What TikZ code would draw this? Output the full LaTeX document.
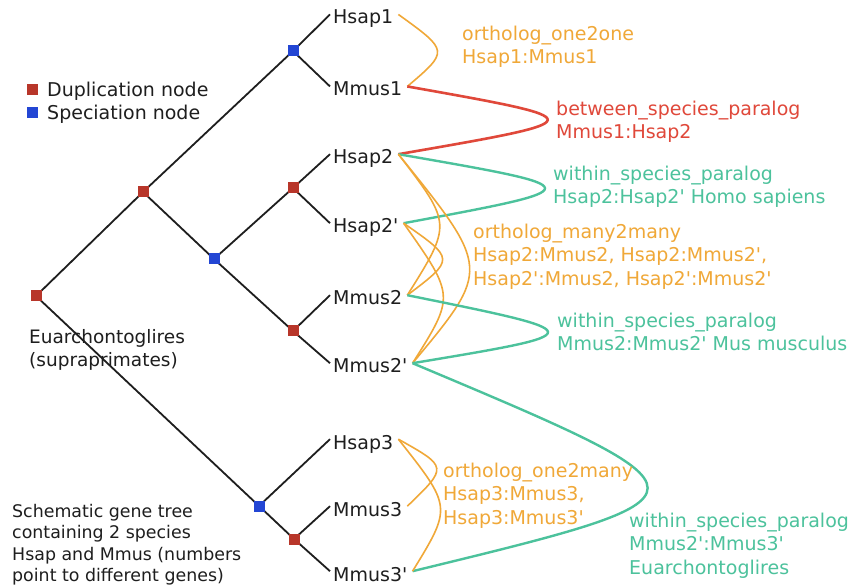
\documentclass[tikz,border=0pt]{standalone}
\usepackage{fontspec}
\setmainfont{DejaVu Sans}[Ligatures=TeXOff]
\definecolor{dupred}{RGB}{184,54,42}
\definecolor{specblue}{RGB}{35,70,212}
\definecolor{orangec}{RGB}{240,168,56}
\definecolor{redc}{RGB}{224,72,58}
\definecolor{greenc}{RGB}{76,194,156}
\definecolor{ink}{RGB}{30,30,30}
\begin{document}
\begin{tikzpicture}[x=1pt,y=-1pt,
  lab/.style={font=\fontsize{19}{23.5}\selectfont, inner sep=0pt},
  leaf/.style={lab, anchor=base west, text=ink},
  note/.style={lab, anchor=north west, align=left},
  br/.style={line width=1.8pt, ink},
  dupn/.style={fill=dupred, minimum size=11pt, inner sep=0pt},
  spen/.style={fill=specblue, minimum size=11pt, inner sep=0pt},
  orth/.style={orangec, line width=1.6pt},
  wpar/.style={greenc, line width=2.4pt},
  bpar/.style={redc, line width=2.6pt}]
\useasboundingbox[fill=white] (0,0) rectangle (855,588);

% leaf labels
\node[leaf] (H1)  at (333,24)  {Hsap1};
\node[leaf] (M1)  at (333,96)  {Mmus1};
\node[leaf] (H2)  at (333,164) {Hsap2};
\node[leaf] (H2p) at (333,233) {Hsap2'};
\node[leaf] (M2)  at (333,305) {Mmus2};
\node[leaf] (M2p) at (333,373) {Mmus2'};
\node[leaf] (H3)  at (333,449) {Hsap3};
\node[leaf] (M3)  at (333,516) {Mmus3};
\node[leaf] (M3p) at (333,581) {Mmus3'};

% leaf branch ends
\foreach \n in {H1,M1,H2,H2p,M2,M2p,H3,M3,M3p}
  \coordinate (l\n) at ([xshift=-3pt,yshift=-4.5pt]\n.north west);
% curve ends
\foreach \n in {H1,M1,H2,H2p,M2,M2p,H3,M3,M3p}
  \coordinate (r\n) at ([xshift=5pt,yshift=-4.5pt]\n.north east);

% inner tree nodes
\coordinate (c0) at (36,296);
\coordinate (c1) at (143,192);
\coordinate (c2) at (293,51);
\coordinate (c3) at (214,259);
\coordinate (c4) at (293,188);
\coordinate (c5) at (293,331);
\coordinate (c6) at (259,506);
\coordinate (c7) at (294,539);

% branches
\draw[br] (c0) -- (c1);
\draw[br] (c0) -- (c6);
\draw[br] (c1) -- (c2);
\draw[br] (c1) -- (c3);
\draw[br] (c2) -- (lH1);
\draw[br] (c2) -- (lM1);
\draw[br] (c3) -- (c4);
\draw[br] (c3) -- (c5);
\draw[br] (c4) -- (lH2);
\draw[br] (c4) -- (lH2p);
\draw[br] (c5) -- (lM2);
\draw[br] (c5) -- (lM2p);
\draw[br] (c6) -- (lH3);
\draw[br] (c6) -- (c7);
\draw[br] (c7) -- (lM3);
\draw[br] (c7) -- (lM3p);

\node[dupn] (n0) at (c0) {};
\node[dupn] (n1) at (c1) {};
\node[spen] (n2) at (c2) {};
\node[spen] (n3) at (c3) {};
\node[dupn] (n4) at (c4) {};
\node[dupn] (n5) at (c5) {};
\node[spen] (n6) at (c6) {};
\node[dupn] (n7) at (c7) {};

% legend
\node[dupn] (legD) at (32,90) {};
\node[spen] (legS) at (32,113) {};
\node[leaf] (legDt) at (47,97) {Duplication node};
\node[leaf] (legSt) at (47,120) {Speciation node};

\node[note, text=ink, font=\fontsize{18.5}{23.5}\selectfont] (clade) at (29,329) {Euarchontoglires\\(supraprimates)};
\node[note, text=ink, font=\fontsize{17.4}{21.5}\selectfont] (caption) at (12,503.8)
  {Schematic gene tree\\containing 2 species\\Hsap and Mmus (numbers\\point to different genes)};

% relation curves
\draw[orth] (rH1) .. controls (449,51) .. (rM1);
\draw[bpar] (rM1) .. controls (596,120) .. (rH2);
\draw[wpar] (rH2) .. controls (593,188) .. (rH2p);
\draw[orth] (rH2) .. controls (452,224) .. (rM2);
\draw[orth] (rH2) .. controls (491,269) .. (rM2p);
\draw[orth] (rH2p) .. controls (455,259) .. (rM2);
\draw[orth] (rH2p) .. controls (455,296) .. (rM2p);
\draw[wpar] (rM2) .. controls (594,333) .. (rM2p);
\draw[wpar] (rM2p) .. controls (726,495) .. (rM3p);
\draw[orth] (rH3) .. controls (448,467) .. (rM3);
\draw[orth] (rH3) .. controls (452,507) .. (rM3p);

% relation labels
\node[note, text=orangec] (t1) at (462,25.6) {ortholog\_one2one\\Hsap1:Mmus1};
\node[note, text=redc] (t2) at (556,100.6) {between\_species\_paralog\\Mmus1:Hsap2};
\node[note, text=greenc] (t3) at (553,165.6) {within\_species\_paralog\\Hsap2:Hsap2' Homo sapiens};
\node[note, text=orangec] (t4) at (473,223.6) {ortholog\_many2many\\Hsap2:Mmus2, Hsap2:Mmus2',\\Hsap2':Mmus2, Hsap2':Mmus2'};
\node[note, text=greenc] (t5) at (557,312.6) {within\_species\_paralog\\Mmus2:Mmus2' Mus musculus};
\node[note, text=orangec] (t6) at (443,462.6) {ortholog\_one2many\\Hsap3:Mmus3,\\Hsap3:Mmus3'};
\node[note, text=greenc] (t7) at (629,512.6) {within\_species\_paralog\\Mmus2':Mmus3'\\Euarchontoglires};
\end{tikzpicture}
\end{document}
